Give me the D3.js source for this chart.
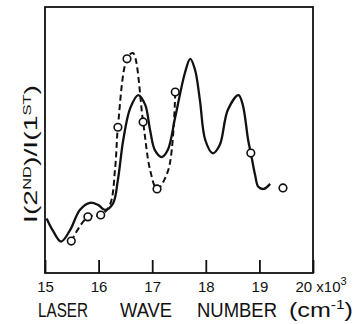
<!DOCTYPE html>
<html>
<head>
<meta charset="utf-8">
<script src="https://cdn.jsdelivr.net/npm/d3@7"></script>
<style>
body { margin: 0; background: #fff; }
svg text { font-family: "Liberation Sans", Arial, sans-serif; fill: #111; }
</style>
</head>
<body>
<div id="chart"></div>
<script>
// laser wave number in units of 10^3 cm-1, ratio in arbitrary units
const solidWave = [15.03, 15.15, 15.30, 15.47, 15.65, 15.84, 15.99, 16.12, 16.27, 16.36, 16.46, 16.59, 16.74, 16.87, 16.96, 17.05, 17.18, 17.29, 17.43, 17.61, 17.71, 17.80, 17.89, 17.99, 18.13, 18.26, 18.41, 18.61, 18.69, 18.79, 18.84, 18.92, 18.98, 19.08, 19.20];
const solidRatio = [2.05, 1.58, 1.18, 1.62, 2.37, 2.64, 2.56, 2.37, 2.62, 3.50, 5.00, 6.20, 6.69, 6.32, 5.38, 4.62, 4.36, 4.62, 5.86, 7.52, 8.05, 7.63, 6.50, 5.00, 4.50, 4.81, 6.13, 6.69, 6.32, 5.00, 4.51, 3.68, 3.24, 3.16, 3.35];

const dashedWave = [15.49, 15.80, 16.04, 16.21, 16.31, 16.36, 16.53, 16.64, 16.83, 16.96, 17.09, 17.30, 17.43];
const dashedRatio = [1.20, 2.11, 2.18, 2.56, 3.98, 5.48, 8.05, 8.27, 5.68, 3.88, 3.16, 3.87, 6.80];

const pointWave = [15.49, 15.80, 16.04, 16.36, 16.53, 16.83, 17.09, 17.43, 18.84, 19.44];
const pointRatio = [1.20, 2.11, 2.18, 5.48, 8.05, 5.68, 3.16, 6.80, 4.51, 3.20];

const tickValues = [15, 16, 17, 18, 19, 20];
const tickLabels = ["15", "16", "17", "18", "19", "20"];

const buildChart = element => {
    const width = 357;
    const height = 324;
    const plotLeft = 45;
    const plotRight = 313;
    const plotTop = 7;
    const plotBottom = 273;
    const ink = "#111";

    const svg = d3.select(element)
        .append("svg")
        .attr("width", width)
        .attr("height", height);

    const x = d3.scaleLinear().domain([15, 20]).range([plotLeft, plotRight]);
    const y = d3.scaleLinear().domain([0, 10]).range([plotBottom, plotTop]);

    // frame
    svg.append("rect")
        .attr("x", x(15))
        .attr("y", y(10))
        .attr("width", x(20) - x(15))
        .attr("height", y(0) - y(10))
        .attr("fill", "none")
        .attr("stroke", ink)
        .attr("stroke-width", 1.8);

    const axis = d3.axisBottom(x)
        .tickValues(tickValues)
        .tickFormat((d, i) => tickLabels[i])
        .tickSizeInner(-13)
        .tickSizeOuter(0)
        .tickPadding(8);

    const axisGroup = svg.append("g")
        .attr("transform", `translate(0,${plotBottom})`)
        .call(axis)
        .attr("font-size", 15)
        .attr("font-family", "Liberation Sans, Arial, sans-serif");

    axisGroup.select(".domain").remove();
    axisGroup.selectAll(".tick line")
        .attr("stroke", ink)
        .attr("stroke-width", 1.8);

    const lastLabel = axisGroup.selectAll(".tick text")
        .filter(d => d === 20)
        .attr("text-anchor", "start")
        .attr("x", -18)
        .text(null);
    lastLabel.append("tspan").text("20 x10");
    lastLabel.append("tspan").attr("font-size", 11).attr("dy", -7).text("3");

    const line = d3.line()
        .x(d => x(d[0]))
        .y(d => y(d[1]))
        .curve(d3.curveCatmullRom.alpha(0.5));

    svg.append("path")
        .datum(d3.zip(solidWave, solidRatio))
        .attr("d", line)
        .attr("fill", "none")
        .attr("stroke", ink)
        .attr("stroke-width", 2.3)
        .attr("stroke-linejoin", "round");

    svg.append("path")
        .datum(d3.zip(dashedWave, dashedRatio))
        .attr("d", line)
        .attr("fill", "none")
        .attr("stroke", ink)
        .attr("stroke-width", 2)
        .attr("stroke-dasharray", "6,3.5");

    svg.selectAll("circle.point")
        .data(d3.zip(pointWave, pointRatio))
        .join("circle")
        .attr("class", "point")
        .attr("cx", d => x(d[0]))
        .attr("cy", d => y(d[1]))
        .attr("r", 3.8)
        .attr("fill", "#fff")
        .attr("stroke", ink)
        .attr("stroke-width", 1.6);

    // x title, one word at a time so the spacing matches
    const addWord = (x0, x1, parts) => {
        const t = svg.append("text")
            .attr("x", x0)
            .attr("y", 317)
            .attr("font-size", 21)
            .attr("textLength", x1 - x0)
            .attr("lengthAdjust", "spacingAndGlyphs");
        parts.forEach(p => {
            t.append("tspan")
                .attr("font-size", p.sup ? 13 : null)
                .attr("dy", p.dy || null)
                .text(p.text);
        });
    };
    addWord(38, 88, [{ text: "LASER" }]);
    addWord(120, 172, [{ text: "WAVE" }]);
    addWord(197, 277, [{ text: "NUMBER" }]);
    addWord(289, 353, [{ text: "(cm" }, { text: "-1", sup: true, dy: -8 }, { text: ")", dy: 8 }]);

    // y title
    const yTitle = svg.append("text")
        .attr("transform", "translate(37,223) rotate(-90)")
        .attr("font-size", 19)
        .attr("textLength", 138)
        .attr("lengthAdjust", "spacingAndGlyphs");
    yTitle.append("tspan").text("I(2");
    yTitle.append("tspan").attr("font-size", 11).attr("dy", -6).text("ND");
    yTitle.append("tspan").attr("dy", 6).text(")/I(1");
    yTitle.append("tspan").attr("font-size", 11).attr("dy", -6).text("ST");
    yTitle.append("tspan").attr("dy", 6).text(")");
};

buildChart(document.getElementById("chart"));
</script>
</body>
</html>
